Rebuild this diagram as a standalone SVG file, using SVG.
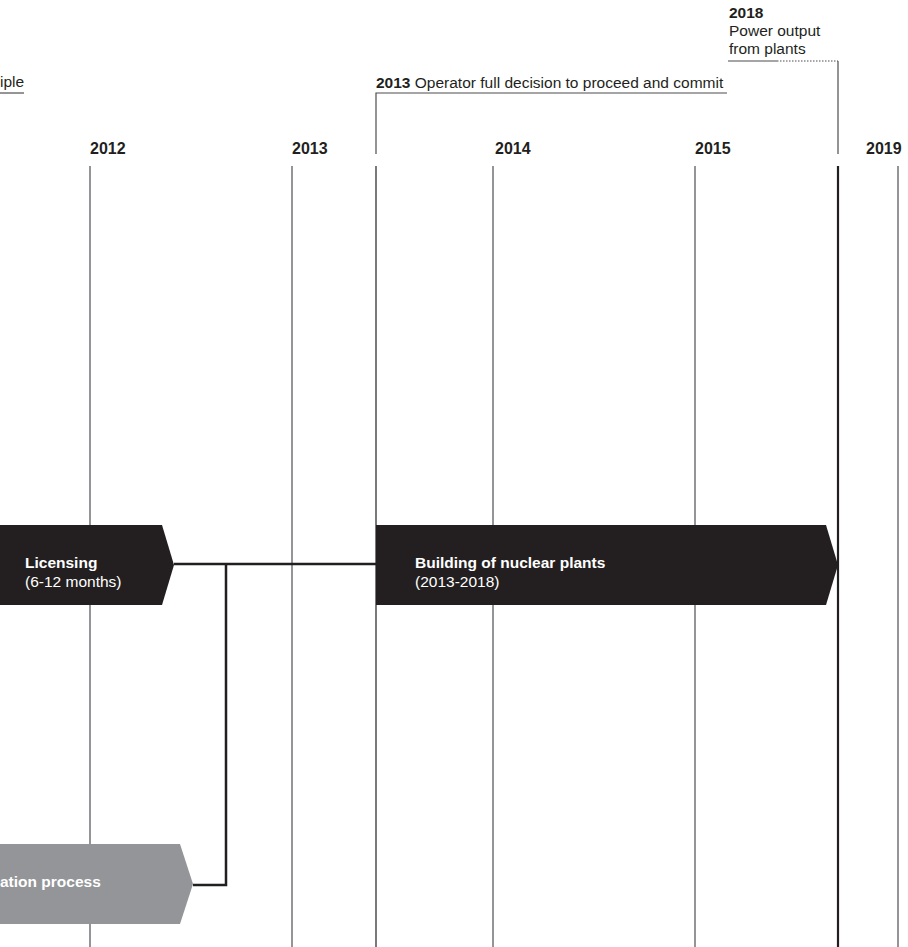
<svg xmlns="http://www.w3.org/2000/svg" width="908" height="947" viewBox="0 0 908 947">
  <style>
    .yr { font-family: "Liberation Sans", Arial, sans-serif; font-weight: bold; font-size: 16px; fill: #231f20; }
    .lbl { font-family: "Liberation Sans", Arial, sans-serif; font-size: 15.5px; fill: #231f20; }
    .b { font-weight: bold; }
    .box { font-family: "Liberation Sans", Arial, sans-serif; font-size: 15.5px; fill: #ffffff; }
    .grid { stroke: #939598; stroke-width: 2; fill: none; }
    .thin { stroke: #231f20; stroke-width: 1.2; fill: none; }
    .lead { stroke: #4d4d4f; stroke-width: 1.2; fill: none; }
    .conn { stroke: #231f20; stroke-width: 2.5; fill: none; }
  </style>
  <rect width="908" height="947" fill="#ffffff"/>

  <g id="timeline">
    <line class="grid" x1="90" y1="166" x2="90" y2="947"/>
    <line class="grid" x1="292" y1="166" x2="292" y2="947"/>
    <line class="grid" x1="493" y1="166" x2="493" y2="947"/>
    <line class="grid" x1="695" y1="166" x2="695" y2="947"/>
    <line class="grid" x1="898" y1="166" x2="898" y2="947"/>
    <line class="thin" x1="376" y1="166" x2="376" y2="947"/>
    <line stroke="#231f20" stroke-width="2.2" x1="838" y1="166" x2="838" y2="947"/>
    <text class="yr" x="90" y="154">2012</text>
    <text class="yr" x="292" y="154">2013</text>
    <text class="yr" x="495" y="154">2014</text>
    <text class="yr" x="695" y="154">2015</text>
    <text class="yr" x="866" y="154">2019</text>
  </g>

  <g id="milestone-principle">
    <text class="lbl" x="0" y="87">iple</text>
    <line class="lead" x1="0" y1="93" x2="24" y2="93"/>
  </g>

  <g id="milestone-2013">
    <text class="lbl" x="376" y="88"><tspan class="b">2013</tspan> Operator full decision to proceed and commit</text>
    <polyline class="lead" points="727,93 376,93 376,154"/>
  </g>

  <g id="milestone-2018">
    <text class="lbl b" x="729" y="18" font-size="16">2018</text>
    <text class="lbl" x="729" y="36">Power output</text>
    <text class="lbl" x="729" y="54">from plants</text>
    <line class="lead" x1="728" y1="61" x2="777" y2="61"/>
    <line stroke="#4d4d4f" stroke-width="1.2" stroke-dasharray="1.5 1.5" x1="777" y1="61" x2="838" y2="61"/>
    <line class="lead" x1="838" y1="61" x2="838" y2="154"/>
  </g>

  <g id="connectors">
    <path class="conn" d="M174,564 H376"/>
    <path class="conn" d="M193,885 H226 V564"/>
  </g>

  <g id="licensing">
    <polygon points="0,525 162,525 174,565 162,605 0,605" fill="#231f20"/>
    <text class="box b" x="25" y="568">Licensing</text>
    <text class="box" x="25" y="587">(6-12 months)</text>
  </g>

  <g id="building">
    <polygon points="376,525 826,525 838,565 826,605 376,605" fill="#231f20"/>
    <text class="box b" x="415" y="568">Building of nuclear plants</text>
    <text class="box" x="415" y="587">(2013-2018)</text>
  </g>

  <g id="process">
    <polygon points="0,844 180,844 193,884 180,924 0,924" fill="#939598"/>
    <text class="box b" x="0" y="887">ation process</text>
  </g>
</svg>
